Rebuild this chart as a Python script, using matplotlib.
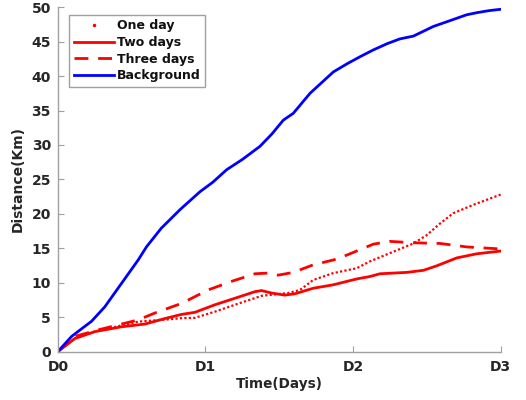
import matplotlib
matplotlib.use("Agg")
import matplotlib.pyplot as plt
from matplotlib.lines import Line2D

# time in days, distance in km
t_bg = [0, 0.093, 0.16, 0.228, 0.318, 0.431, 0.544, 0.6, 0.7, 0.827, 0.962, 1.05, 1.143,
        1.25, 1.369, 1.45, 1.527, 1.595, 1.708, 1.866, 1.96, 2.046, 2.137, 2.23, 2.317,
        2.408, 2.543, 2.65, 2.769, 2.837, 2.92, 3.0]
d_bg = [0, 2.2, 3.3, 4.4, 6.5, 9.9, 13.3, 15.2, 17.9, 20.6, 23.2, 24.6, 26.4,
        27.9, 29.8, 31.6, 33.6, 34.6, 37.5, 40.6, 41.8, 42.8, 43.8, 44.7, 45.4,
        45.8, 47.2, 48.0, 48.9, 49.2, 49.5, 49.7]

t_one = [0, 0.115, 0.25, 0.431, 0.544, 0.7, 0.838, 0.928, 1.064, 1.2, 1.38, 1.47, 1.56, 1.64,
         1.73, 1.866, 2.024, 2.114, 2.25, 2.408, 2.498, 2.589, 2.679, 2.814, 2.9, 3.0]
d_one = [0, 1.9, 2.9, 3.8, 4.35, 4.6, 4.85, 4.9, 5.8, 6.8, 8.1, 8.3, 8.5, 8.95,
         10.4, 11.4, 12.1, 13.1, 14.3, 15.7, 16.9, 18.6, 20.1, 21.3, 22.0, 22.8]

t_two = [0, 0.115, 0.25, 0.431, 0.59, 0.725, 0.838, 0.928, 1.064, 1.2, 1.335, 1.38,
         1.448, 1.538, 1.606, 1.73, 1.866, 2.024, 2.114, 2.182, 2.363, 2.476, 2.566,
         2.702, 2.837, 3.0]
d_two = [0, 1.9, 2.9, 3.6, 4.0, 4.8, 5.4, 5.7, 6.8, 7.75, 8.7, 8.86,
         8.5, 8.2, 8.4, 9.2, 9.7, 10.55, 10.9, 11.3, 11.5, 11.8, 12.45,
         13.6, 14.2, 14.6]

t_three = [0, 0.115, 0.273, 0.544, 0.657, 0.838, 1.019, 1.177, 1.335, 1.425, 1.493,
           1.595, 1.73, 1.866, 1.956, 2.137, 2.25, 2.408, 2.589, 2.769, 3.0]
d_three = [0, 2.2, 3.15, 4.6, 5.6, 7.0, 8.96, 10.2, 11.3, 11.4, 11.1,
           11.5, 12.6, 13.3, 14.0, 15.6, 16.0, 15.8, 15.7, 15.2, 14.9]

xticks = [0, 1, 2, 3]
xtick_labels = ["D0", "D1", "D2", "D3"]
yticks = list(range(0, 51, 5))

fig = plt.figure(figsize=(5.26, 4.0), dpi=100)
ax = fig.add_axes([0.110, 0.121, 0.842, 0.861])

ax.plot(t_one, d_one, color="red", linestyle=(0, (1, 1)), linewidth=1.6)
ax.plot(t_two, d_two, color="red", linestyle="-", linewidth=2.0)
ax.plot(t_three, d_three, color="red", linestyle=(0, (5, 3.5)), linewidth=2.0)
ax.plot(t_bg, d_bg, color="blue", linestyle="-", linewidth=2.0)

ax.set_xlim(0, 3)
ax.set_ylim(0, 50)
ax.set_xticks(xticks)
ax.set_xticklabels(xtick_labels)
ax.set_yticks(yticks)

for side in ["top", "right"]:
    ax.spines[side].set_visible(False)
for side in ["left", "bottom"]:
    ax.spines[side].set_color("#a0a0a0")
    ax.spines[side].set_linewidth(1.0)

ax.tick_params(direction="in", length=4, color="#a0a0a0", labelcolor="#262626",
               labelsize=10)
ax.tick_params(axis="y", pad=5)
ax.tick_params(axis="x", pad=6)
for lbl in ax.get_xticklabels() + ax.get_yticklabels():
    lbl.set_fontweight("bold")

ax.set_xlabel("Time(Days)", fontsize=9.8, fontweight="bold", color="#262626", labelpad=2)
ax.set_ylabel("Distance(Km)", fontsize=10, fontweight="bold", color="#262626", labelpad=5)

# legend handles, "One day" shows as a single dot like the original
handles = [
    Line2D([], [], color="red", linestyle="none", marker=".", markersize=3),
    Line2D([], [], color="red", linestyle="-", linewidth=2.0),
    Line2D([], [], color="red", linestyle=(0, (5, 3.5)), linewidth=2.0),
    Line2D([], [], color="blue", linestyle="-", linewidth=2.0),
]
labels = ["One day", "Two days", "Three days", "Background"]
leg = ax.legend(handles, labels, loc="upper left", bbox_to_anchor=(0.02, 0.985),
                prop={"weight": "bold", "size": 9}, fancybox=False, framealpha=1,
                handlelength=3.2, handletextpad=0.3, borderpad=0.35, labelspacing=0.3,
                borderaxespad=0.2)
leg.get_frame().set_edgecolor("#a0a0a0")
leg.get_frame().set_linewidth(1.0)
for txt in leg.get_texts():
    txt.set_color("#111111")

fig.savefig("out.png", dpi=100)
